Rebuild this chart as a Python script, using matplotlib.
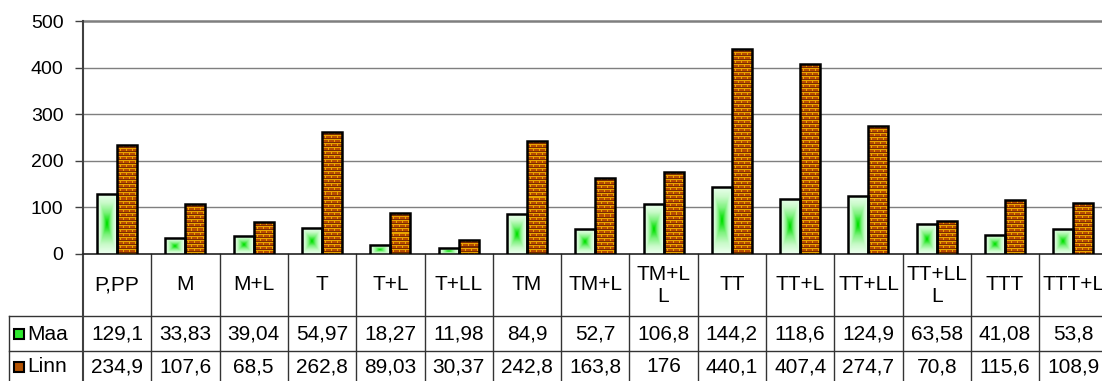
import numpy as np
import matplotlib
matplotlib.use('Agg')
import matplotlib.pyplot as plt
import matplotlib.transforms as tnf
from matplotlib.colors import LinearSegmentedColormap, to_rgb
from matplotlib.patches import Rectangle

categories = ['P,PP', 'M', 'M+L', 'T', 'T+L', 'T+LL', 'TM', 'TM+L', 'TM+LL',
              'TT', 'TT+L', 'TT+LL', 'TT+LLL', 'TTT', 'TTT+L']
# header cells as Excel wrapped them
header_labels = ['P,PP', 'M', 'M+L', 'T', 'T+L', 'T+LL', 'TM', 'TM+L', 'TM+L\nL',
                 'TT', 'TT+L', 'TT+LL', 'TT+LL\nL', 'TTT', 'TTT+L']
maa = [129.1, 33.83, 39.04, 54.97, 18.27, 11.98, 84.9, 52.7, 106.8,
       144.2, 118.6, 124.9, 63.58, 41.08, 53.8]
linn = [234.9, 107.6, 68.5, 262.8, 89.03, 30.37, 242.8, 163.8, 176,
        440.1, 407.4, 274.7, 70.8, 115.6, 108.9]
series_names = ['Maa', 'Linn']
y_ticks = [0, 100, 200, 300, 400, 500]

plt.rcParams['font.family'] = ['Liberation Sans', 'DejaVu Sans']

W, H = 1102, 381
fig = plt.figure(figsize=(W / 100, H / 100), dpi=100)
col_px = 68.3
ax = fig.add_axes([83 / W, (H - 254) / H, col_px * len(categories) / W, 233 / H])
px_per_unit = 233 / 500

x = np.arange(len(categories))
bw = 20 / col_px

# grid
for t in y_ticks[1:]:
    ax.axhline(t, color='#7f7f7f', lw=1.0 if t < 500 else 1.8, zorder=1, clip_on=False)

# Maa bars: light green with a bright centre
green = LinearSegmentedColormap.from_list('g', ['#00e000', '#7cf27c', '#c8fac8', '#eefff0'])
yy, xx = np.mgrid[-1:1:80j, -1:1:24j]
grad = np.maximum(np.abs(xx), np.abs(yy))
maa_bars = ax.bar(x - bw / 2, maa, bw, color='#b8f5b8', lw=0, zorder=3)
for b in maa_bars:
    im = ax.imshow(grad, extent=(b.get_x(), b.get_x() + b.get_width(), 0, b.get_height()),
                   aspect='auto', cmap=green, interpolation='bilinear', zorder=3.5)
    im.set_clip_path(b)
ax.bar(x - bw / 2, maa, bw, fill=False, edgecolor='black', lw=1.8, zorder=4)


# Linn bars: brick texture, one texel per pixel
def bricks(h, w):
    brick, mortar, shade = to_rgb('#b84c00'), to_rgb('#eaa400'), to_rgb('#7a2a00')
    img = np.empty((h, w, 3))
    for r in range(h):
        for c in range(w):
            row = r // 4
            if r % 4 == 0:
                img[r, c] = mortar
            elif r % 4 == 3:
                img[r, c] = shade
            elif (c + 3 * (row % 2)) % 6 == 0:
                img[r, c] = mortar
            else:
                img[r, c] = brick
    return img


linn_bars = ax.bar(x + bw / 2, linn, bw, color='#b35200', lw=0, zorder=3)
for b in linn_bars:
    h = max(int(round(b.get_height() * px_per_unit)), 1)
    im = ax.imshow(bricks(h, 20), origin='upper',
                   extent=(b.get_x(), b.get_x() + b.get_width(), 0, b.get_height()),
                   aspect='auto', interpolation='nearest', zorder=3.5)
    im.set_clip_path(b)
ax.bar(x + bw / 2, linn, bw, fill=False, edgecolor='black', lw=1.8, zorder=4)

ax.set_xlim(-0.5, len(categories) - 0.5)
ax.set_ylim(0, 500)
ax.set_yticks(y_ticks)
ax.set_xticks([])
for s in ['top', 'right']:
    ax.spines[s].set_visible(False)
ax.spines['left'].set_color('#404040')
ax.spines['left'].set_linewidth(1.5)
ax.spines['bottom'].set_color('#222222')
ax.spines['bottom'].set_linewidth(1.2)
ax.tick_params(axis='y', direction='out', length=6, width=1, color='#404040',
               labelsize=14, pad=8)

# data table below the plot
tr = tnf.blended_transform_factory(ax.transData, fig.transFigure)
fy = lambda py: (H - py) / H
x_left = -0.5 - (83 - 9) / col_px
lc = '#333333'
for py in [316, 351]:
    ax.plot([x_left, len(categories) - 0.5], [fy(py), fy(py)], color=lc, lw=1,
            transform=tr, clip_on=False)
for i in range(len(categories) + 1):
    ax.plot([i - 0.5, i - 0.5], [fy(254), fy(H)], color=lc if i else '#404040',
            lw=1 if i else 1.5, transform=tr, clip_on=False)
ax.plot([x_left, x_left], [fy(316), fy(H)], color=lc, lw=1, transform=tr, clip_on=False)

fs = 15
for i, lab in enumerate(header_labels):
    ax.text(i, fy(285), lab, ha='center', va='center', fontsize=fs, linespacing=1.2,
            transform=tr)
    ax.text(i, fy(334), str(maa[i]).replace('.', ','), ha='center', va='center',
            fontsize=fs, transform=tr)
    ax.text(i, fy(367), str(linn[i]).replace('.', ','), ha='center', va='center',
            fontsize=fs, transform=tr)

# legend keys in the row headers
key_colors = ['#2ee82e', '#b35200']
for name, cy, kc in zip(series_names, [334, 367], key_colors):
    r = Rectangle((14 / W, fy(cy + 5)), 10 / W, 10 / H, transform=fig.transFigure,
                  facecolor=kc, edgecolor='black', lw=1.5)
    fig.add_artist(r)
    fig.text(27 / W, fy(cy), name, ha='left', va='center', fontsize=fs)

fig.savefig('out.png', dpi=100)
